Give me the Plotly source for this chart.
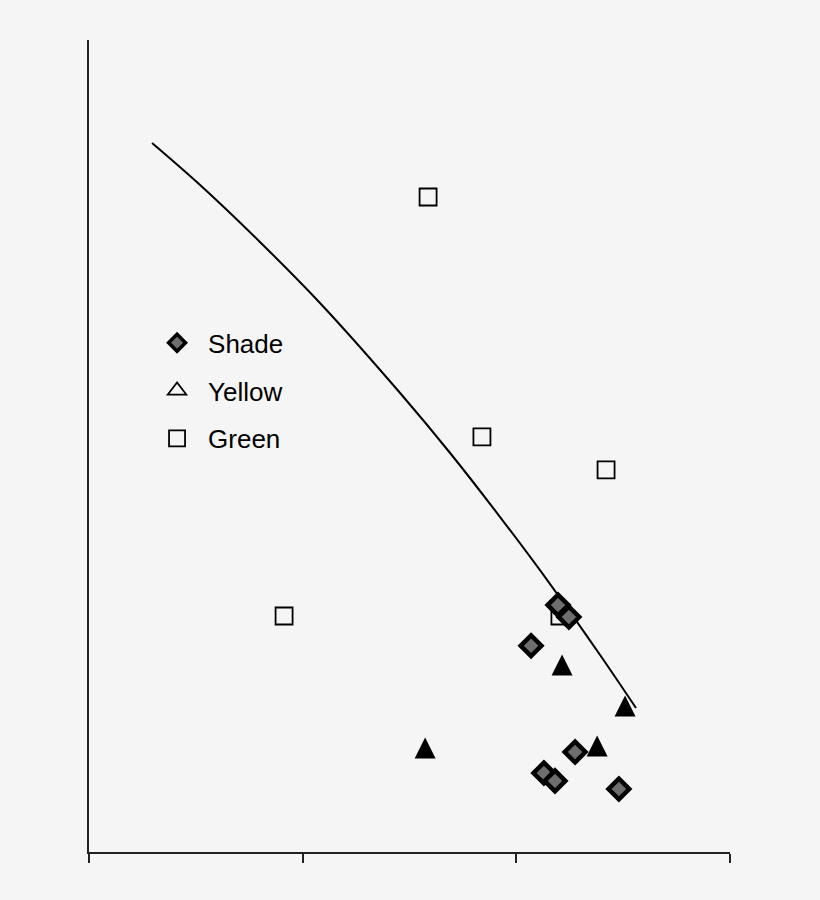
import plotly.graph_objects as go

# values (x axis 0..3, y axis 0..8, no labels shown)
shade_x = [2.195, 2.246, 2.069, 2.275, 2.129, 2.181, 2.480]
shade_y = [2.433, 2.315, 2.032, 0.985, 0.778, 0.700, 0.621]

yellow_x = [1.573, 2.214, 2.378, 2.509]
yellow_y = [1.025, 1.842, 1.044, 1.438]

green_x = [1.587, 1.839, 2.420, 0.913, 2.204]
green_y = [6.453, 4.089, 3.764, 2.325, 2.325]

curve_x = [0.295, 0.520, 0.800, 1.081, 1.456, 1.690, 1.924, 2.158, 2.392, 2.560]
curve_y = [6.985, 6.571, 6.010, 5.409, 4.522, 3.931, 3.300, 2.640, 1.941, 1.419]

x_ticks = [0, 1, 2, 3]

bg = "#f5f5f5"
tri = 21  # triangle marker size

fig = go.Figure()

fig.add_trace(go.Scatter(x=curve_x, y=curve_y, mode="lines", line=dict(color="black", width=2, shape="spline"),
                         showlegend=False, hoverinfo="skip"))

fig.add_trace(go.Scatter(x=green_x, y=green_y, mode="markers", name="Green", showlegend=False,
                         marker=dict(symbol="square-open", size=17, color="black", line=dict(width=1.8))))
fig.add_trace(go.Scatter(x=shade_x, y=shade_y, mode="markers", name="Shade", showlegend=False,
                         marker=dict(symbol="diamond", size=16, color="#6e6e6e", line=dict(color="black", width=4.5))))
# equal width/height triangle: arrow shape turned round and centred on the point
fig.add_trace(go.Scatter(x=yellow_x, y=yellow_y, mode="markers", name="Yellow", showlegend=False,
                         marker=dict(symbol="arrow-down", size=tri, angle=180, standoff=tri / 2,
                                     color="black", line=dict(width=0))))

# legend entries (the legend shows an open triangle)
fig.add_trace(go.Scatter(x=[None], y=[None], mode="markers", name="Shade", legendgroup="a",
                         marker=dict(symbol="diamond", size=13, color="#6e6e6e", line=dict(color="black", width=3.5))))
fig.add_trace(go.Scatter(x=[None], y=[None], mode="markers", name="Yellow", legendgroup="b",
                         marker=dict(symbol="triangle-up-open", size=20, color="black", line=dict(width=1.8))))
fig.add_trace(go.Scatter(x=[None], y=[None], mode="markers", name="Green", legendgroup="c",
                         marker=dict(symbol="square-open", size=18, color="black", line=dict(width=1.8))))

fig.update_layout(
    width=820, height=900,
    margin=dict(l=89, r=90, t=40, b=48),
    paper_bgcolor=bg, plot_bgcolor=bg,
    font=dict(family="Liberation Sans, Arial, sans-serif", size=26, color="black"),
    legend=dict(x=0.089, y=0.656, xanchor="left", yanchor="top", bgcolor="rgba(0,0,0,0)",
                itemsizing="trace", itemwidth=52, tracegroupgap=11),
)
fig.update_xaxes(range=[0, 3], tickvals=x_ticks, showticklabels=False, ticks="outside", ticklen=9,
                 tickwidth=1.5, tickcolor="#222", showline=True, linecolor="#222", linewidth=2,
                 showgrid=False, zeroline=False)
fig.update_yaxes(range=[0, 8], showticklabels=False, ticks="", showline=True, linecolor="#222",
                 linewidth=1.5, showgrid=False, zeroline=False)

fig.write_html("out.html", config={"displayModeBar": False},
               post_script="document.body.style.margin='0';document.body.style.background='%s';" % bg)
